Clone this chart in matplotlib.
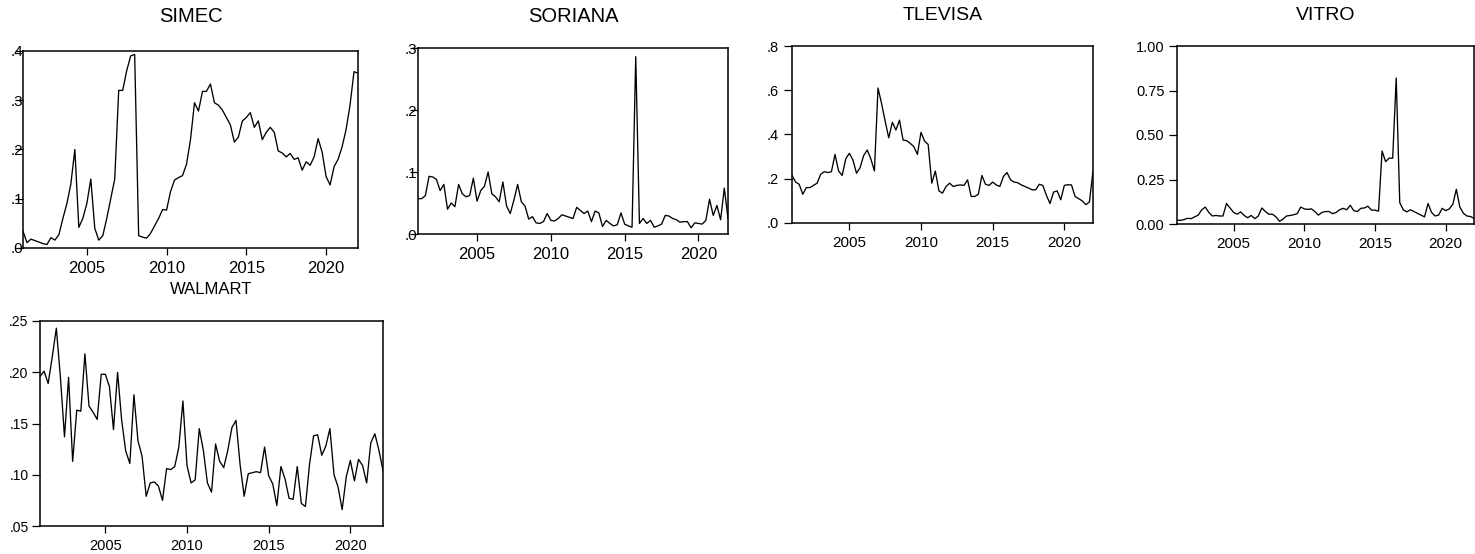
import numpy as np
import matplotlib
matplotlib.use("Agg")
import matplotlib.pyplot as plt

plt.rcParams['font.family'] = ['Liberation Sans', 'DejaVu Sans']

# quarterly observations 2001Q1 .. 2022Q1
start_year = 2001
n_obs = 85

simec = [0.034, 0.011, 0.018, 0.015, 0.012, 0.009, 0.007, 0.021, 0.016, 0.027,
         0.06, 0.09, 0.13, 0.2, 0.042, 0.06, 0.09, 0.14, 0.04, 0.016,
         0.025, 0.06, 0.10, 0.14, 0.32, 0.32, 0.36, 0.39, 0.393, 0.025,
         0.022, 0.02, 0.03, 0.045, 0.06, 0.078, 0.077, 0.115, 0.138, 0.143,
         0.147, 0.17, 0.22, 0.295, 0.278, 0.318, 0.318, 0.333, 0.295, 0.29,
         0.28, 0.265, 0.25, 0.215, 0.225, 0.258, 0.265, 0.275, 0.245, 0.258,
         0.22, 0.235, 0.245, 0.235, 0.197, 0.193, 0.185, 0.192, 0.18, 0.183,
         0.158, 0.175, 0.168, 0.185, 0.222, 0.195, 0.145, 0.128, 0.165, 0.18,
         0.205, 0.24, 0.29, 0.358, 0.355]

soriana = [0.057, 0.057, 0.062, 0.093, 0.092, 0.088, 0.07, 0.08, 0.04, 0.05,
           0.044, 0.08, 0.065, 0.06, 0.062, 0.09, 0.053, 0.07, 0.077, 0.10,
           0.065, 0.06, 0.052, 0.084, 0.045, 0.033, 0.055, 0.08, 0.052, 0.045,
           0.024, 0.028, 0.018, 0.017, 0.02, 0.033, 0.022, 0.021, 0.025, 0.031,
           0.029, 0.027, 0.025, 0.043, 0.038, 0.033, 0.037, 0.02, 0.037, 0.034,
           0.012, 0.022, 0.017, 0.013, 0.015, 0.034, 0.016, 0.013, 0.011, 0.286,
           0.017, 0.025, 0.017, 0.022, 0.011, 0.013, 0.016, 0.03, 0.029, 0.025,
           0.023, 0.019, 0.02, 0.02, 0.01, 0.018, 0.017, 0.016, 0.022, 0.056,
           0.03, 0.046, 0.023, 0.074, 0.025]

tlevisa = [0.215, 0.185, 0.175, 0.13, 0.16, 0.16, 0.17, 0.18, 0.22, 0.232,
           0.228, 0.232, 0.31, 0.235, 0.215, 0.29, 0.315, 0.285, 0.225, 0.25,
           0.305, 0.33, 0.29, 0.235, 0.61, 0.54, 0.46, 0.385, 0.455, 0.42,
           0.465, 0.375, 0.372, 0.36, 0.345, 0.31, 0.41, 0.37, 0.355, 0.18,
           0.235, 0.145, 0.135, 0.165, 0.18, 0.165, 0.17, 0.172, 0.17, 0.195,
           0.12, 0.12, 0.13, 0.215, 0.175, 0.17, 0.185, 0.172, 0.165, 0.21,
           0.228, 0.195, 0.185, 0.182, 0.172, 0.165, 0.158, 0.15, 0.15, 0.175,
           0.17, 0.125, 0.088, 0.14, 0.145, 0.105, 0.17, 0.173, 0.172, 0.12,
           0.11, 0.1, 0.083, 0.095, 0.235]

vitro = [0.022, 0.02, 0.025, 0.032, 0.03, 0.04, 0.05, 0.08, 0.095, 0.065,
         0.045, 0.048, 0.045, 0.045, 0.115, 0.09, 0.065, 0.055, 0.068, 0.048,
         0.035, 0.048, 0.03, 0.045, 0.09, 0.07, 0.055, 0.055, 0.04, 0.015,
         0.028, 0.045, 0.048, 0.052, 0.058, 0.095, 0.085, 0.082, 0.085, 0.07,
         0.05, 0.065, 0.07, 0.07, 0.058, 0.065, 0.08, 0.088, 0.08, 0.105,
         0.075, 0.07, 0.088, 0.09, 0.1, 0.078, 0.078, 0.072, 0.41, 0.35,
         0.37, 0.37, 0.82, 0.12, 0.08, 0.068, 0.08, 0.07, 0.06, 0.05,
         0.04, 0.115, 0.065, 0.045, 0.05, 0.088, 0.075, 0.085, 0.11, 0.195,
         0.095, 0.06, 0.045, 0.042, 0.032]

walmart = [0.196, 0.201, 0.189, 0.215, 0.243, 0.195, 0.137, 0.195, 0.113, 0.163,
           0.162, 0.218, 0.167, 0.161, 0.154, 0.198, 0.198, 0.186, 0.144, 0.200,
           0.153, 0.123, 0.111, 0.178, 0.133, 0.118, 0.079, 0.092, 0.093, 0.089,
           0.075, 0.106, 0.105, 0.108, 0.127, 0.172, 0.109, 0.092, 0.095, 0.145,
           0.124, 0.092, 0.083, 0.130, 0.113, 0.107, 0.124, 0.146, 0.153, 0.110,
           0.079, 0.101, 0.102, 0.103, 0.102, 0.127, 0.099, 0.091, 0.070, 0.108,
           0.096, 0.077, 0.076, 0.108, 0.072, 0.069, 0.110, 0.138, 0.139, 0.119,
           0.128, 0.145, 0.100, 0.088, 0.066, 0.098, 0.114, 0.094, 0.115, 0.109,
           0.092, 0.131, 0.140, 0.124, 0.104]

titles = ["SIMEC", "SORIANA", "TLEVISA", "VITRO", "WALMART"]
series = [simec, soriana, tlevisa, vitro, walmart]
x_ticks = [2005, 2010, 2015, 2020]
y_ticks = [
    [0.0, 0.1, 0.2, 0.3, 0.4],
    [0.0, 0.1, 0.2, 0.3],
    [0.0, 0.2, 0.4, 0.6, 0.8],
    [0.0, 0.25, 0.5, 0.75, 1.0],
    [0.05, 0.10, 0.15, 0.20, 0.25],
]
y_labels = [
    [".0", ".1", ".2", ".3", ".4"],
    [".0", ".1", ".2", ".3"],
    [".0", ".2", ".4", ".6", ".8"],
    ["0.00", "0.25", "0.50", "0.75", "1.00"],
    [".05", ".10", ".15", ".20", ".25"],
]

W, H = 1475, 554
fig = plt.figure(figsize=(W / 100, H / 100), dpi=100)

# axes boxes in pixels: left, right, top, bottom
boxes = [
    (23, 358, 51, 248),
    (418, 728, 48, 234),
    (792, 1093, 46, 223),
    (1177, 1474, 46, 224),
    (40, 383, 321, 526),
]
y_pads = [-6.5, -5.5, 3.5, 3.0, 2.2]
x_sizes = [12, 12, 11, 11, 10.5]
y_sizes = [11, 11, 10.5, 10.5, 10]
title_sizes = [14.5, 14.5, 14, 14, 12]
title_offsets = [34, 32, 30, 30, 32]

x = start_year + np.arange(n_obs) / 4.0

for k, (title, vals, yt, yl, (l, r, t, b)) in enumerate(zip(titles, series, y_ticks, y_labels, boxes)):
    ax = fig.add_axes([l / W, 1 - b / H, (r - l) / W, (b - t) / H])
    ax.plot(x, vals, color="black", linewidth=0.95)
    ax.set_xlim(start_year, start_year + (n_obs - 1) / 4.0)
    ax.set_ylim(yt[0], yt[-1])
    ax.set_xticks(x_ticks)
    ax.set_xticklabels([str(v) for v in x_ticks])
    ax.set_yticks(yt)
    ax.set_yticklabels(yl)
    ax.tick_params(axis="both", direction="out", width=0.9, colors="black",
                   top=False, right=False)
    ax.tick_params(axis="y", length=6, pad=y_pads[k], labelsize=y_sizes[k])
    ax.tick_params(axis="x", length=5, pad=4.5, labelsize=x_sizes[k])
    for s in ax.spines.values():
        s.set_linewidth(1.1)
        s.set_color("black")
    fig.text((l + r) / 2 / W, 1 - (t - title_offsets[k]) / H, title,
             ha="center", va="center", fontsize=title_sizes[k], color="black")

fig.savefig("out.png", dpi=100)
